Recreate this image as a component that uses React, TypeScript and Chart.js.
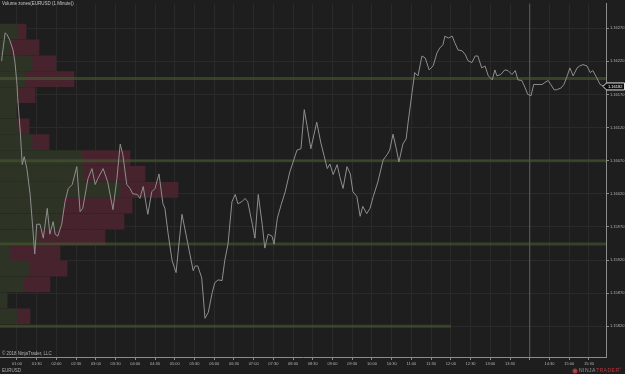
import React, { useEffect, useRef } from 'react';
import { Chart, registerables } from 'chart.js';

Chart.register(...registerables);

// ---- price line (minutes since midnight, close price) ----
const times = [36,37,42,45,49,54,57,60,61,65,68,71,75,80,84,87,90,95,100,106,110,115,118,122,128,133,138,144,151,156,160,168,174,179,183,191,198,206,212,217,221,227,232,236,243,247,252,259,265,270,276,282,285,290,296,302,306,311,317,322,328,331,335,341,346,351,357,361,366,372,376,381,387,392,396,402,407,411,418,422,427,433,437,442,448,451,456,462,468,475,486,492,497,501,507,516,522,532,536,541,547,551,556,562,567,571,577,582,586,592,597,602,609,617,623,627,632,637,641,647,652,655,661,665,670,676,681,687,693,699,703,708,711,716,722,726,731,737,742,746,752,757,761,767,772,777,783,787,790,796,802,807,813,818,822,828,833,837,842,846,851,859,863,868,872,877,881,888,892,897,901,906,912,916,921,927,932,936,942,947,954];
const closes = [1.16221,1.16225,1.16263,1.16260,1.16252,1.16237,1.16218,1.16185,1.16165,1.16113,1.16064,1.16076,1.16058,1.16019,1.15968,1.15929,1.15974,1.15974,1.15953,1.15998,1.15959,1.15978,1.15959,1.15956,1.15974,1.16008,1.16028,1.16034,1.16061,1.15993,1.15998,1.16043,1.16058,1.16034,1.16043,1.16058,1.16038,1.15996,1.16043,1.16095,1.16079,1.16034,1.16028,1.16020,1.16019,1.16013,1.16031,1.15989,1.16023,1.16028,1.16050,1.16005,1.15998,1.15959,1.15919,1.15901,1.15941,1.15989,1.15959,1.15934,1.15904,1.15911,1.15911,1.15893,1.15832,1.15841,1.15871,1.15886,1.15890,1.15889,1.15919,1.15944,1.16008,1.16019,1.16005,1.16008,1.16013,1.16008,1.15974,1.15953,1.16019,1.15974,1.15938,1.15959,1.15956,1.15944,1.15983,1.16004,1.16023,1.16053,1.16086,1.16088,1.16147,1.16124,1.16088,1.16128,1.16098,1.16058,1.16065,1.16049,1.16064,1.16046,1.16028,1.16061,1.16050,1.16023,1.16016,1.15986,1.16001,1.15990,1.15998,1.16016,1.16038,1.16071,1.16079,1.16086,1.16110,1.16088,1.16068,1.16095,1.16103,1.16128,1.16173,1.16203,1.16198,1.16228,1.16225,1.16207,1.16213,1.16233,1.16240,1.16245,1.16258,1.16255,1.16258,1.16248,1.16237,1.16236,1.16230,1.16221,1.16218,1.16228,1.16228,1.16210,1.16213,1.16198,1.16192,1.16207,1.16198,1.16200,1.16207,1.16206,1.16200,1.16206,1.16192,1.16191,1.16180,1.16170,1.16168,1.16185,1.16185,1.16185,1.16188,1.16191,1.16185,1.16177,1.16177,1.16180,1.16185,1.16198,1.16210,1.16198,1.16210,1.16213,1.16215,1.16213,1.16203,1.16206,1.16195,1.16185,1.16182];

// ---- volume profile rows ----
const profileLevels = [1.16265,1.16241,1.16217,1.16193,1.16169,1.16146,1.16122,1.16098,1.16074,1.16050,1.16026,1.16002,1.15978,1.15954,1.15930,1.15907,1.15883,1.15859,1.15835];
const buyVolume = [170,100,320,250,180,160,170,320,820,830,1200,630,600,380,100,290,230,70,170];
const sellVolume = [90,290,240,490,170,0,120,170,480,620,580,690,640,670,500,380,270,0,130];

// ---- zones ----
const zonePrices = [1.16194, 1.16070, 1.15944, 1.15820];
const zoneEnds = [956, 956, 956, 720];

// ---- axes ----
const priceTicks = [1.15820,1.15870,1.15920,1.15970,1.16020,1.16070,1.16120,1.16170,1.16220,1.16270];
const timeTicks = [60,90,120,150,180,210,240,270,300,330,360,390,420,450,480,510,540,570,600,630,660,690,720,750,780,810,840,870,900,930];
const hiddenTimeLabels = [840];
const sessionMarker = 840;
const xMin = 34.14, xMax = 956.0;
const yMin = 1.157736, yMax = 1.163074;
const volumeMax = 6060;

const fmtTime = (m: number) =>
  `${String(Math.floor(m / 60)).padStart(2, '0')}:${String(Math.round(m % 60)).padStart(2, '0')}`;

const FONT = 'Liberation Sans';

export default function App() {
  const ref = useRef<HTMLCanvasElement>(null);

  useEffect(() => {
    if (!ref.current) return;

    const bgPlugin = {
      id: 'bg',
      beforeDraw(chart: any) {
        const c = chart.ctx;
        c.save();
        c.fillStyle = '#1e1e1e';
        c.fillRect(0, 0, chart.width, chart.height);
        c.restore();
      },
    };

    const overlay = {
      id: 'overlay',
      afterDraw(chart: any) {
        const c = chart.ctx;
        const ys = chart.scales.y;
        c.save();
        c.textBaseline = 'middle';
        c.fillStyle = '#c8c8c8';
        c.font = `4.5px ${FONT}`;
        c.textAlign = 'left';
        c.fillText('Volume zones(EURUSD (1 Minute))', 2, 4);
        c.fillStyle = '#b0b0b0';
        c.fillText('© 2018 NinjaTrader, LLC', 2, 354);
        c.fillText('EURUSD', 2, 371);

        // logo
        c.fillStyle = '#b03038';
        c.beginPath();
        c.arc(575, 371, 2.5, 0, Math.PI * 2);
        c.fill();
        c.fillStyle = '#6a6a6a';
        c.beginPath();
        c.arc(575, 371, 1.1, 0, Math.PI * 2);
        c.fill();
        c.font = `5px ${FONT}`;
        let x = 579;
        const drawSpaced = (s: string, color: string) => {
          c.fillStyle = color;
          for (const ch of s) {
            c.fillText(ch, x, 371);
            x += c.measureText(ch).width + 0.5;
          }
        };
        drawSpaced('NINJA', '#9a9a9a');
        drawSpaced('TRADER', '#c0343c');
        c.font = `3px ${FONT}`;
        c.fillText('®', x - 0.3, 369);

        // current price box
        const last = closes[closes.length - 1];
        const py = ys.getPixelForValue(last);
        const left = chart.chartArea.right - 3;
        c.beginPath();
        c.moveTo(left, py);
        c.lineTo(left + 3.5, py - 3.5);
        c.lineTo(624.5, py - 3.5);
        c.lineTo(624.5, py + 3.5);
        c.lineTo(left + 3.5, py + 3.5);
        c.closePath();
        c.fillStyle = '#0c0c0c';
        c.fill();
        c.strokeStyle = '#e0e0e0';
        c.lineWidth = 1;
        c.stroke();
        c.fillStyle = '#ffffff';
        c.font = `4px ${FONT}`;
        c.fillText(last.toFixed(5), left + 5, py + 0.3);
        c.restore();
      },
    };

    const lineData = times.map((t, i) => ({ x: t, y: closes[i] }));
    const buyData = profileLevels.map((p, i) => ({ x: [0, buyVolume[i]], y: p }));
    const sellData = profileLevels.map((p, i) => ({ x: [buyVolume[i], buyVolume[i] + sellVolume[i]], y: p }));

    const zoneSets = zonePrices.map((p, i) => ({
      type: 'line',
      data: [{ x: xMin, y: p }, { x: zoneEnds[i], y: p }],
      xAxisID: 'x',
      yAxisID: 'y',
      borderColor: 'rgba(72,90,48,0.6)',
      borderWidth: 3,
      pointRadius: 0,
      order: 1,
    }));

    const chart = new Chart(ref.current, {
      type: 'line',
      data: {
        datasets: [
          {
            type: 'line',
            data: lineData,
            xAxisID: 'x',
            yAxisID: 'y',
            borderColor: '#8e8e8e',
            borderWidth: 1,
            pointRadius: 0,
            tension: 0,
            order: 0,
          } as any,
          {
            type: 'line',
            data: [{ x: sessionMarker, y: yMin }, { x: sessionMarker, y: yMax }],
            xAxisID: 'x',
            yAxisID: 'y',
            borderColor: '#5e5e5e',
            borderWidth: 1,
            pointRadius: 0,
            order: 3,
          } as any,
          ...(zoneSets as any[]),
          {
            type: 'bar',
            data: buyData,
            indexAxis: 'y',
            xAxisID: 'xv',
            yAxisID: 'y',
            grouped: false,
            barThickness: 15,
            backgroundColor: '#2d3425',
            borderWidth: 0,
            order: 2,
          } as any,
          {
            type: 'bar',
            data: sellData,
            indexAxis: 'y',
            xAxisID: 'xv',
            yAxisID: 'y',
            grouped: false,
            barThickness: 15,
            backgroundColor: '#47232e',
            borderWidth: 0,
            order: 2,
          } as any,
        ],
      },
      options: {
        responsive: false,
        maintainAspectRatio: false,
        devicePixelRatio: 1,
        animation: false,
        events: [],
        layout: { padding: 0 },
        plugins: { legend: { display: false }, tooltip: { enabled: false } },
        scales: {
          x: {
            type: 'linear',
            position: 'bottom',
            min: xMin,
            max: xMax,
            offset: false,
            afterBuildTicks: (s: any) => { s.ticks = timeTicks.map((v) => ({ value: v })); },
            afterFit: (s: any) => { s.height = 17; },
            ticks: {
              autoSkip: false,
              maxRotation: 0,
              padding: 1,
              color: '#b4b4b4',
              font: { size: 4, family: FONT },
              callback: (v: any) => (hiddenTimeLabels.includes(v) ? '' : fmtTime(v)),
            },
            grid: { color: '#2a2a2a', tickColor: '#8a8a8a', tickLength: 3, offset: false },
            border: { color: '#8c8c8c', width: 1 },
          },
          y: {
            type: 'linear',
            position: 'right',
            min: yMin,
            max: yMax,
            offset: false,
            afterBuildTicks: (s: any) => { s.ticks = priceTicks.map((v) => ({ value: v })); },
            afterFit: (s: any) => { s.width = 19; },
            ticks: {
              autoSkip: false,
              padding: 1,
              color: '#b4b4b4',
              font: { size: 4, family: FONT },
              callback: (v: any) => Number(v).toFixed(5),
            },
            grid: { color: '#2a2a2a', tickColor: '#8a8a8a', tickLength: 3, offset: false },
            border: { color: '#8c8c8c', width: 1 },
          },
          xv: {
            type: 'linear',
            axis: 'x',
            position: 'bottom',
            display: false,
            min: 0,
            max: volumeMax,
          },
        } as any,
      },
      plugins: [bgPlugin, overlay],
    } as any);

    return () => chart.destroy();
  }, []);

  return (
    <div style={{ position: 'fixed', left: 0, top: 0, width: 625, height: 374, background: '#1e1e1e' }}>
      <canvas ref={ref} width={625} height={374} style={{ display: 'block', width: 625, height: 374 }} />
    </div>
  );
}
